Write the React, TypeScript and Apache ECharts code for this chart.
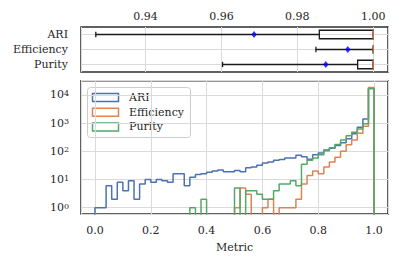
import React, { useEffect, useRef } from 'react';
import * as echarts from 'echarts';

const FONT = '"DejaVu Serif", serif';
const TEXT = '#262626';
const GRID = '#dadada';
const BORDER = '#2e2e2e';

// ---- histogram (bottom panel) ----
const seriesNames = ['ARI', 'Efficiency', 'Purity'];
const seriesColors = ['#4c72b0', '#dd8452', '#55a868'];
const binStart = 0;
const binWidth = 0.02;

const ariCounts = [
  1, 1, 6, 2, 8, 4, 9, 2, 7, 10,
  8, 10, 9, 8, 16, 16, 6, 12, 15, 16,
  18, 20, 22, 19, 19, 21, 19, 26, 28, 32,
  39, 42, 48, 51, 58, 58, 72, 64, 52, 75,
  88, 112, 130, 160, 200, 280, 420, 720, 1400, 17800,
];
const efficiencyCounts = [
  0, 0, 0, 0, 0, 0, 0, 0, 0, 0,
  0, 0, 0, 0, 0, 0, 0, 0, 0, 0,
  0, 0, 0, 0, 0, 1, 5, 3, 0, 0,
  1, 2, 0, 1, 1, 1, 2, 7, 14, 20,
  16, 28, 42, 62, 100, 170, 250, 440, 780, 18500,
];
const purityCounts = [
  0, 0, 0, 0, 0, 0, 0, 0, 0, 0,
  0, 0, 0, 0, 0, 0, 0, 1, 0, 2,
  0, 0, 0, 0, 0, 5, 0, 4, 4, 3,
  2, 2, 4, 7, 7, 9, 6, 35, 48, 58,
  75, 105, 135, 175, 250, 360, 480, 620, 950, 16500,
];
const histCounts = [ariCounts, efficiencyCounts, purityCounts];

// ---- box plot (top panel) ----
const boxRows = ['ARI', 'Efficiency', 'Purity'];
const boxMin = [0.9269, 0.9849, 0.9603];
const boxQ1 = [0.9858, 1.0, 0.9959];
const boxMedian = [1.0, 1.0, 1.0];
const boxQ3 = [1.0, 1.0, 1.0];
const boxMax = [1.0, 1.0, 1.0];
const boxMean = [0.9686, 0.9933, 0.9875];

const FLOOR = 0.3;

function stepData(counts: number[]) {
  const pts: number[][] = [[binStart, FLOOR]];
  counts.forEach((c, i) => {
    pts.push([binStart + i * binWidth, c > 0 ? c : FLOOR]);
  });
  pts.push([binStart + counts.length * binWidth, FLOOR]);
  return pts;
}

export default function App() {
  const ref = useRef<HTMLDivElement>(null);
  useEffect(() => {
    document.body.style.margin = '0';
    const chart = echarts.init(ref.current!, null, { renderer: 'svg' });
    const boxData = boxRows.map((_, i) => [i, boxMin[i], boxQ1[i], boxMedian[i], boxQ3[i], boxMax[i]]);

    const legendChildren: any[] = [
      {
        type: 'rect',
        shape: { x: 87.5, y: 87.5, width: 103, height: 50, r: 3 },
        style: { fill: 'rgba(255,255,255,0.85)', stroke: '#cccccc', lineWidth: 1 },
      },
    ];
    seriesNames.forEach((n, i) => {
      const cy = 97.5 + i * 14.7;
      legendChildren.push({
        type: 'rect',
        shape: { x: 92.5, y: cy - 4, width: 26, height: 8 },
        style: { fill: 'none', stroke: seriesColors[i], lineWidth: 1.5 },
      });
      legendChildren.push({
        type: 'text',
        x: 129,
        y: cy,
        style: { text: n, fill: TEXT, font: `11px ${FONT}`, textVerticalAlign: 'middle', verticalAlign: 'middle' },
      });
    });

    chart.setOption({
      animation: false,
      textStyle: { fontFamily: FONT },
      grid: [
        { left: 81, right: 19, top: 27, height: 45, show: true, borderColor: BORDER, borderWidth: 1.5, backgroundColor: 'transparent' },
        { left: 81, right: 19, top: 80.7, height: 133.3, show: true, borderColor: BORDER, borderWidth: 1.5, backgroundColor: 'transparent' },
      ],
      xAxis: [
        {
          gridIndex: 0,
          type: 'value',
          position: 'top',
          min: 0.923,
          max: 1.0039,
          axisLine: { show: false },
          axisTick: { show: false },
          splitLine: { show: true, lineStyle: { color: GRID, width: 1 } },
          axisLabel: {
            margin: 5,
            fontSize: 11,
            color: TEXT,
            fontFamily: FONT,
            showMinLabel: false,
            showMaxLabel: false,
            formatter: (v: number) => {
              const k = Math.round(v / 0.02);
              return Math.abs(k * 0.02 - v) < 1e-6 ? v.toFixed(2) : '';
            },
          },
        },
        {
          gridIndex: 1,
          type: 'value',
          min: -0.05,
          max: 1.05,
          name: 'Metric',
          nameLocation: 'middle',
          nameGap: 28,
          nameTextStyle: { fontSize: 11, color: TEXT, fontFamily: FONT },
          axisLine: { show: false },
          axisTick: { show: false },
          splitLine: { show: true, lineStyle: { color: GRID, width: 1 } },
          axisLabel: {
            margin: 11,
            fontSize: 11,
            color: TEXT,
            fontFamily: FONT,
            showMinLabel: false,
            showMaxLabel: false,
            formatter: (v: number) => {
              const k = Math.round(v / 0.2);
              return Math.abs(k * 0.2 - v) < 1e-6 ? v.toFixed(1) : '';
            },
          },
        },
      ],
      yAxis: [
        {
          gridIndex: 0,
          type: 'category',
          data: boxRows,
          inverse: true,
          axisLine: { show: false },
          axisTick: { show: false },
          splitLine: { show: false },
          axisLabel: { margin: 13, fontSize: 11, color: TEXT, fontFamily: FONT },
        },
        {
          gridIndex: 1,
          type: 'log',
          logBase: 10,
          min: 0.6,
          max: 32000,
          axisLine: { show: false },
          axisTick: { show: false },
          splitLine: { show: true, lineStyle: { color: GRID, width: 1 } },
          axisLabel: {
            margin: 12,
            color: TEXT,
            fontFamily: FONT,
            showMinLabel: false,
            showMaxLabel: false,
            formatter: (v: number) => {
              const e = Math.round(Math.log10(v));
              if (Math.abs(Math.log10(v) - e) > 1e-6) return '';
              return `{b|10}{s|${e}}`;
            },
            rich: {
              b: { fontSize: 11, fontFamily: FONT, color: TEXT, lineHeight: 11, padding: [3, 0, 0, 0], verticalAlign: 'bottom' },
              s: { fontSize: 8, fontFamily: FONT, color: TEXT, lineHeight: 8, verticalAlign: 'top' },
            },
          },
        },
      ],
      series: [
        {
          type: 'custom',
          xAxisIndex: 0,
          yAxisIndex: 0,
          data: boxData,
          encode: { x: [1, 2, 3, 4, 5], y: 0 },
          clip: false,
          renderItem: (params: any, api: any) => {
            const row = api.value(0);
            const pMin = api.coord([api.value(1), row]);
            const pQ1 = api.coord([api.value(2), row]);
            const pMed = api.coord([api.value(3), row]);
            const pQ3 = api.coord([api.value(4), row]);
            const pMax = api.coord([api.value(5), row]);
            const cs = params.coordSys;
            const y = pMin[1];
            const bh = 8.5;
            const ch = 5.3;
            const blk = { stroke: '#1a1a1a', lineWidth: 1.3 };
            return {
              type: 'group',
              children: [
                { type: 'line', shape: { x1: cs.x, y1: y, x2: cs.x + cs.width, y2: y }, style: { stroke: GRID, lineWidth: 1 } },
                { type: 'line', shape: { x1: pMin[0], y1: y, x2: pQ1[0], y2: y }, style: blk },
                { type: 'line', shape: { x1: pQ3[0], y1: y, x2: pMax[0], y2: y }, style: blk },
                { type: 'line', shape: { x1: pMin[0], y1: y - ch / 2, x2: pMin[0], y2: y + ch / 2 }, style: blk },
                { type: 'line', shape: { x1: pMax[0], y1: y - ch / 2, x2: pMax[0], y2: y + ch / 2 }, style: blk },
                { type: 'rect', shape: { x: pQ1[0], y: y - bh / 2, width: pQ3[0] - pQ1[0], height: bh }, style: { fill: 'none', ...blk } },
                { type: 'line', shape: { x1: pMed[0], y1: y - bh / 2, x2: pMed[0], y2: y + bh / 2 }, style: { stroke: '#dd8452', lineWidth: 1.3 } },
              ],
            };
          },
        },
        {
          type: 'scatter',
          xAxisIndex: 0,
          yAxisIndex: 0,
          data: boxRows.map((_, i) => [boxMean[i], i]),
          symbol: 'diamond',
          symbolSize: [5.5, 7],
          itemStyle: { color: '#0000ff' },
          z: 5,
        },
        ...seriesNames.map((n, i) => ({
          type: 'line',
          name: n,
          xAxisIndex: 1,
          yAxisIndex: 1,
          data: stepData(histCounts[i]),
          step: 'end',
          symbol: 'none',
          clip: true,
          lineStyle: { color: seriesColors[i], width: 1.5 },
          itemStyle: { color: seriesColors[i] },
          z: 3 + i,
        })),
      ],
      graphic: [{ type: 'group', z: 100, children: legendChildren }],
    });
    return () => chart.dispose();
  }, []);
  return <div ref={ref} style={{ position: 'absolute', left: 0, top: 0, width: 407, height: 267 }} />;
}
